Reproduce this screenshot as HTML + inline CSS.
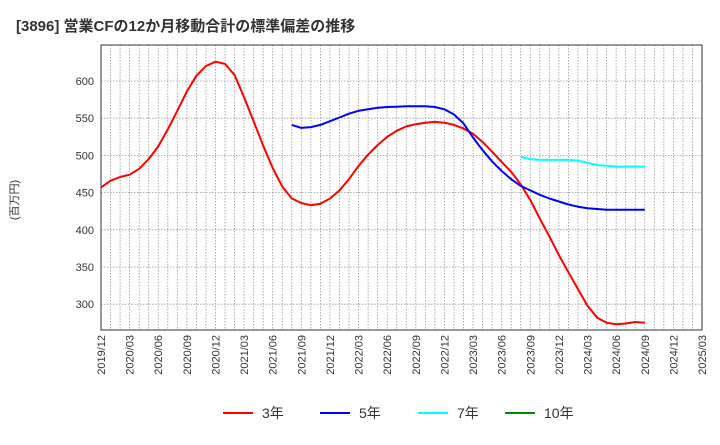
<!DOCTYPE html>
<html><head><meta charset="utf-8"><style>
body{margin:0;background:#fff;font-family:"Liberation Sans","Noto Sans CJK JP",sans-serif;}
</style></head><body>
<svg width="720" height="440" xmlns="http://www.w3.org/2000/svg">
<text x="16" y="31" font-size="15" font-weight="bold" fill="#333" font-family="Liberation Sans,Noto Sans CJK JP,sans-serif">[3896]  営業CFの12か月移動合計の標準偏差の推移</text>
<text transform="translate(18,200) rotate(-90)" font-size="11" fill="#333" text-anchor="middle" font-family="Liberation Sans,Noto Sans CJK JP,sans-serif">(百万円)</text>
<g id="grid"></g><g id="axes"></g><g id="series"></g>
<rect x="101" y="45" width="601" height="285" fill="none" stroke="#333" stroke-width="1"/>
<g font-size="14" fill="#333">
<g><line x1="223" y1="413" x2="253" y2="413" stroke="#f00" stroke-width="2"/><text x="262" y="418">3年</text></g>
<g><line x1="320" y1="413" x2="350" y2="413" stroke="#00f" stroke-width="2"/><text x="359" y="418">5年</text></g>
<g><line x1="418" y1="413" x2="448" y2="413" stroke="#0ff" stroke-width="2"/><text x="457" y="418">7年</text></g>
<g><line x1="505" y1="413" x2="535" y2="413" stroke="#080" stroke-width="2"/><text x="544" y="418">10年</text></g>
</g>
</svg>
<script>
const yTicks=[300,350,400,450,500,550,600];
const xTickLabels=["2019/12","2020/03","2020/06","2020/09","2020/12","2021/03","2021/06","2021/09","2021/12","2022/03","2022/06","2022/09","2022/12","2023/03","2023/06","2023/09","2023/12","2024/03","2024/06","2024/09","2024/12","2025/03"];
const s3=[457,466,471,474,482,495,512,535,560,586,607,620,626,623,608,578,546,513,483,458,442,436,433,435,442,453,468,486,501,514,525,533,539,542,544,545,544,541,536,529,518,505,491,478,461,440,415,391,366,343,320,298,282,275,273,274,276,275];
const s5Start=20;
const s5=[541,537,538,541,546,551,556,560,562,564,565,565.5,566,566,566,565,562,555,543,524,507,492,479,468,459,453,447,442,438,434,431,429,428,427,427,427,427,427];
const s7Start=44;
const s7=[498,495,494,494,494,494,493,490,487,486,485,485,485,485];
const NS="http://www.w3.org/2000/svg";
const X0=101,X1=702,Y0=45,Y1=330,NM=63,YMIN=265.3,YMAX=648.4;
const xs=i=>X0+(X1-X0)*i/NM;
const ys=v=>Y1-(v-YMIN)/(YMAX-YMIN)*(Y1-Y0);
const grid=document.getElementById('grid'),axes=document.getElementById('axes'),ser=document.getElementById('series');
function mk(t,a,p){const e=document.createElementNS(NS,t);for(const k in a)e.setAttribute(k,a[k]);p.appendChild(e);return e;}
for(let i=1;i<NM;i++){const l=mk('line',{x1:xs(i),x2:xs(i),y1:Y0,y2:Y1,stroke:'#999','stroke-width':0.8,'stroke-dasharray':'1.5,1.5'},grid);

}
yTicks.forEach(v=>{const l=mk('line',{x1:X0,x2:X1,y1:ys(v),y2:ys(v),stroke:'#999','stroke-width':0.8,'stroke-dasharray':'1.5,1.5'},grid);


const t=mk('text',{x:X0-7,y:ys(v)+4,'font-size':11,fill:'#333','text-anchor':'end'},axes);t.textContent=v;

});
xTickLabels.forEach((s,k)=>{const x=xs(k*3);const t=mk('text',{transform:`translate(${x+4},${Y1+5}) rotate(-90)`,'font-size':11,fill:'#333','text-anchor':'end'},axes);t.textContent=s;

});
function line(arr,start,color,name){const d=arr.map((v,i)=>(i?'L':'M')+xs(start+i).toFixed(1)+','+ys(v).toFixed(1)).join('');
const p=mk('path',{d:d,fill:'none',stroke:color,'stroke-width':2,'stroke-linejoin':'round'},ser);

}
line(s3,0,'#f00','series-3y');
line(s5,s5Start,'#00f','series-5y');
line(s7,s7Start,'#0ff','series-7y');
</script>
</body></html>
